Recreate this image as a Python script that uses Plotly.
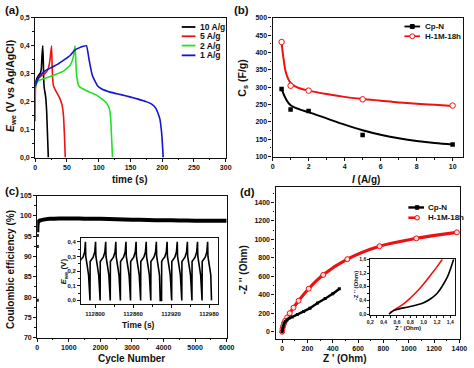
import plotly.graph_objects as go

W, H = 474, 368
FONT = "Liberation Sans"
INK = "#111111"

# ---------------- data ----------------
# (a) galvanostatic charge/discharge
t_10 = [0, 0.5, 2, 5, 8, 9.5, 10.5, 11.8, 12.8, 13.3, 14.3, 16.4, 18.0, 19.5, 20.6]
v_10 = [0.25, 0.268, 0.28, 0.293, 0.302, 0.315, 0.36, 0.40, 0.34, 0.28, 0.247, 0.218, 0.165, 0.07, 0.0]
t_5 = [0, 0.4, 2, 5, 10, 15, 20, 23, 25.7, 26.6, 27.5, 29, 33.4, 38, 42, 44.5, 46, 47.3]
v_5 = [0.13, 0.25, 0.268, 0.283, 0.293, 0.30, 0.315, 0.345, 0.40, 0.33, 0.28, 0.255, 0.234, 0.215, 0.19, 0.15, 0.08, 0.0]
t_2 = [0, 2, 5, 15, 30, 45, 55, 60, 62.7, 64.2, 66, 69, 80, 95, 105, 112, 116.6, 118.8, 120.5, 121.7]
v_2 = [0.25, 0.265, 0.274, 0.283, 0.295, 0.31, 0.33, 0.36, 0.40, 0.33, 0.28, 0.255, 0.24, 0.225, 0.21, 0.195, 0.176, 0.14, 0.06, 0.0]
t_1 = [0, 3, 7.7, 15.4, 25.7, 35, 46, 55, 61.7, 70, 76, 80.7, 84.8, 90, 97.7, 105, 118, 135, 149, 162, 174.7, 184, 190, 196, 199, 200.3, 201.5]
v_1 = [0.255, 0.275, 0.293, 0.31, 0.322, 0.333, 0.35, 0.365, 0.383, 0.393, 0.398, 0.40, 0.35, 0.293, 0.258, 0.245, 0.234, 0.225, 0.217, 0.209, 0.20, 0.19, 0.176, 0.141, 0.09, 0.049, 0.0]
gcd_labels = ["10 A/g", "5 A/g", "2 A/g", "1 A/g"]

# (b) specific capacitance vs current density
i_pts = [0.5, 1, 2, 5, 10]
cs_cpn = [295, 236, 231, 162, 135]
cs_h1m = [430, 304, 290, 265, 247]
fit_cpn_x = [0.5, 0.75, 1.0, 1.5, 2, 3, 4, 5, 6, 7, 8, 9, 10]
fit_cpn_y = [295, 265, 248, 236, 228, 210, 192, 176, 163, 153, 145, 139, 135]
fit_h1m_x = [0.5, 0.6, 0.75, 1.0, 1.25, 1.5, 2, 3, 4, 5, 6, 7, 8, 9, 10]
fit_h1m_y = [428, 385, 340, 312, 302, 297, 290, 280, 272, 266, 261, 256, 252, 249, 246]

# (c) coulombic efficiency
ce_early_cycle = [1, 2, 3]
ce_early_value = [79.2, 92.5, 95.2]
ce_cycle = [4, 10, 25, 50, 100, 200, 400, 700, 1000, 1500, 2000, 2500, 3000, 3500, 4000, 4500, 5000, 5500, 6000]
ce_value = [96.0, 97.6, 98.4, 98.7, 98.9, 99.1, 99.3, 99.4, 99.4, 99.35, 99.3, 99.2, 99.1, 99.0, 98.95, 98.9, 98.85, 98.85, 98.8]
# (c) inset: one charge/discharge cycle and the start time of each cycle
cycle_t = [0, 0.2, 2, 5, 7.5, 8.8, 9.3, 10.5, 12.5, 13.8, 14.6, 14.9]
cycle_v = [0.0, 0.265, 0.28, 0.295, 0.33, 0.40, 0.30, 0.25, 0.21, 0.17, 0.10, 0.0]
cycle_starts = [112776, 112792, 112808, 112824, 112840, 112856, 112872, 112888, 112905, 112921, 112937, 112953, 112969]

# (d) Nyquist plot
zr_cpn = [0, 3, 8, 15, 25, 40, 55, 80, 120, 170, 220, 280, 340, 400, 452]
zi_cpn = [0, 25, 55, 85, 110, 130, 145, 160, 185, 220, 255, 310, 360, 410, 465]
zr_h1m = [0, 3, 8, 15, 25, 40, 60, 90, 130, 210, 325, 515, 770, 1060, 1380]
zi_h1m = [0, 30, 60, 90, 120, 155, 200, 260, 335, 465, 615, 785, 925, 1010, 1075]
# (d) inset (high-frequency zoom)
zr_cpn_in = [0.48, 0.55, 0.63, 0.75, 0.88, 1.0, 1.1, 1.2, 1.28, 1.36, 1.45]
zi_cpn_in = [0.0, 0.1, 0.15, 0.2, 0.26, 0.33, 0.44, 0.6, 0.82, 1.1, 1.6]
zr_h1m_in = [0.5, 0.6, 0.7, 0.8, 0.9, 1.0, 1.1, 1.2, 1.28]
zi_h1m_in = [0.04, 0.17, 0.3, 0.47, 0.66, 0.88, 1.13, 1.38, 1.6]
series_names = ["Cp-N", "H-1M-18h"]

# ---------------- helpers ----------------
def fx(p):
    return p / W

def fy(p):
    return 1 - p / H

def axis(x0, x1, rng, dtick, minor, tick0=0, fmt=None, anchor=None, size=7):
    return dict(domain=[x0, x1], range=rng, anchor=anchor, showline=True, linecolor=INK,
                linewidth=1.2, mirror=True, ticks="outside", ticklen=3, tickwidth=1,
                tickcolor=INK, tickfont=dict(family=FONT, size=size, color=INK, weight="bold"),
                tick0=tick0, dtick=dtick, tickformat=fmt,
                minor=dict(ticks="outside", ticklen=1.8, tickwidth=1, tickcolor=INK, dtick=minor, tick0=tick0),
                showgrid=False, zeroline=False)

fig = go.Figure()
BLACK, RED, GREEN, BLUE = "#000000", "#ee1111", "#22e022", "#1414d2"

# (a)
for t, v, c, n in zip([t_10, t_5, t_2, t_1], [v_10, v_5, v_2, v_1], [BLACK, RED, GREEN, BLUE], gcd_labels):
    fig.add_trace(go.Scatter(x=t, y=v, mode="lines", line=dict(color=c, width=1.6, shape="spline", smoothing=0.4),
                             name=n, xaxis="x", yaxis="y", showlegend=False))

# (b)
fig.add_trace(go.Scatter(x=fit_cpn_x, y=fit_cpn_y, mode="lines", line=dict(color=BLACK, width=2, shape="spline"),
                         xaxis="x2", yaxis="y2", showlegend=False))
fig.add_trace(go.Scatter(x=fit_h1m_x, y=fit_h1m_y, mode="lines", line=dict(color=RED, width=2, shape="spline"),
                         xaxis="x2", yaxis="y2", showlegend=False))
fig.add_trace(go.Scatter(x=i_pts, y=cs_cpn, mode="markers", name=series_names[0],
                         marker=dict(symbol="square", size=4.5, color=BLACK),
                         xaxis="x2", yaxis="y2", showlegend=False))
fig.add_trace(go.Scatter(x=i_pts, y=cs_h1m, mode="markers", name=series_names[1],
                         marker=dict(symbol="circle", size=5.5, color="white", line=dict(color=RED, width=1)),
                         xaxis="x2", yaxis="y2", showlegend=False))

# (c)
fig.add_trace(go.Scatter(x=ce_early_cycle, y=ce_early_value, mode="markers",
                         marker=dict(symbol="square", size=3, color=BLACK),
                         xaxis="x3", yaxis="y3", showlegend=False))
fig.add_trace(go.Scatter(x=ce_cycle, y=ce_value, mode="lines", line=dict(color=BLACK, width=4, shape="spline"),
                         xaxis="x3", yaxis="y3", showlegend=False))
wave_t, wave_v = [], []
for s in cycle_starts:
    wave_t += [s + dt for dt in cycle_t]
    wave_v += cycle_v
fig.add_trace(go.Scatter(x=wave_t, y=wave_v, mode="lines", line=dict(color=BLACK, width=1.6),
                         xaxis="x5", yaxis="y5", showlegend=False))

# (d)
fig.add_trace(go.Scatter(x=zr_h1m, y=zi_h1m, mode="lines+markers", name=series_names[1],
                         line=dict(color=RED, width=3.2, shape="spline"),
                         marker=dict(symbol="circle", size=5, color="#ffdada", line=dict(color=RED, width=1)),
                         xaxis="x4", yaxis="y4", showlegend=False))
fig.add_trace(go.Scatter(x=zr_cpn, y=zi_cpn, mode="lines+markers", name=series_names[0],
                         line=dict(color=BLACK, width=2.4, shape="spline"),
                         marker=dict(symbol="square", size=3, color=BLACK),
                         xaxis="x4", yaxis="y4", showlegend=False))
fig.add_trace(go.Scatter(x=zr_h1m_in, y=zi_h1m_in, mode="lines", line=dict(color=RED, width=1.6, shape="spline"),
                         xaxis="x6", yaxis="y6", showlegend=False))
fig.add_trace(go.Scatter(x=zr_cpn_in, y=zi_cpn_in, mode="lines", line=dict(color=BLACK, width=1.6, shape="spline"),
                         xaxis="x6", yaxis="y6", showlegend=False))

layout = dict(width=W, height=H, margin=dict(l=0, r=0, t=0, b=0), paper_bgcolor="white",
              plot_bgcolor="white", separators=",.", showlegend=False,
              font=dict(family=FONT, color=INK))
# panel (a)
layout["xaxis"] = axis(fx(33), fx(228), [0, 300], 50, 25, anchor="y")
layout["yaxis"] = axis(fy(157), fy(14), [0, 0.5], 0.1, 0.05, fmt=".1f", anchor="x")
# panel (b)
layout["xaxis2"] = axis(fx(276), fx(471), [0, 10.58], 2, 1, anchor="y2")
layout["yaxis2"] = axis(fy(156), fy(14), [100, 500], 50, 25, anchor="x2")
# panel (c)
layout["xaxis3"] = axis(fx(35), fx(229), [0, 6000], 1000, 500, anchor="y3")
layout["yaxis3"] = axis(fy(341), fy(196), [70, 105], 5, 2.5, anchor="x3")
# panel (d)
layout["xaxis4"] = axis(fx(279), fx(468), [-52, 1406], 200, 100, anchor="y4")
layout["yaxis4"] = axis(fy(342), fy(187), [-74, 1566], 200, 100, anchor="x4")
# inset (c)
layout["xaxis5"] = axis(fx(80), fx(220), [112778, 112994], 60, 30, tick0=112800, fmt="d", anchor="y5", size=6)
layout["yaxis5"] = axis(fy(307), fy(239), [-0.027, 0.427], 0.1, 0.05, fmt=".1f", anchor="x5", size=6)
# inset (d)
layout["xaxis6"] = axis(fx(376), fx(463), [0.2, 1.474], 0.2, 0.1, fmt=".1f", anchor="y6", size=5)
layout["yaxis6"] = axis(fy(318), fy(261), [-0.03, 1.6], 0.4, 0.2, fmt=".1f", anchor="x6", size=5)
layout["xaxis6"]["ticklen"] = 2
layout["yaxis6"]["ticklen"] = 2
fig.update_layout(**layout)

# ---------------- text (panel labels, axis titles) ----------------
def txt(s, x, y, size, angle=0, xanchor="center"):
    fig.add_annotation(text=s, x=fx(x), y=fy(y), xref="paper", yref="paper", showarrow=False,
                       textangle=angle, xanchor=xanchor, yanchor="middle",
                       font=dict(family=FONT, size=size, color=INK))

txt("<b>(a)</b>", 0, 6, 11.5, xanchor="left")
txt("<b>(b)</b>", 234, 6, 11.5, xanchor="left")
txt("<b>(c)</b>", 0, 191, 11.5, xanchor="left")
txt("<b>(d)</b>", 241, 192, 11.5, xanchor="left")

txt("<b><i>E</i><sub>we</sub> (V vs Ag/AgCl)</b>", 8, 84, 10.5, angle=-90)
txt("<b>time (s)</b>", 130, 179, 10)
txt("<b>C<sub>s</sub> (F/g)</b>", 246, 76, 10.5, angle=-90)
txt("<b><i>I</i> (A/g)</b>", 372, 179, 10)
txt("<b>Coulombic efficiency (%)</b>", 7, 271, 10, angle=-90)
txt("<b>Cycle Number</b>", 132, 362, 10)
txt("<b>-Z '' (Ohm)</b>", 246, 272, 10, angle=-90)
txt("<b>Z ' (Ohm)</b>", 350, 362, 10)
txt("<b><i>E</i><sub>we</sub> (V)</b>", 63, 274, 8, angle=-90)
txt("<b>Time (s)</b>", 139, 328, 8.5)
txt("<b>-Z '' (Ohm)</b>", 361, 288, 6, angle=-90)
txt("<b>Z ' (Ohm)</b>", 415, 331, 6)

# ---------------- legends (drawn as keys) ----------------
def key_line(x0, x1, y, color, width, dash="solid"):
    fig.add_shape(type="line", xref="paper", yref="paper", x0=fx(x0), x1=fx(x1), y0=fy(y), y1=fy(y),
                  line=dict(color=color, width=width, dash=dash))

def key_marker(x, y, r, kind, color, fill):
    fig.add_shape(type=kind, xref="paper", yref="paper", x0=fx(x - r), x1=fx(x + r), y0=fy(y + r), y1=fy(y - r),
                  line=dict(color=color, width=1), fillcolor=fill)

for lab, c, y in zip(gcd_labels, [BLACK, RED, GREEN, BLUE], [23.5, 33, 42.5, 52.5]):
    key_line(183, 197, y, c, 1.8)
    txt("<b>%s</b>" % lab, 200, y, 8.5, xanchor="left")

key_line(411, 427, 23, BLACK, 1.8)
key_marker(419, 23, 2, "rect", BLACK, BLACK)
txt("<b>%s</b>" % series_names[0], 430, 23, 8, xanchor="left")
key_line(411, 427, 33, RED, 1.8)
key_marker(419, 33, 2.5, "circle", RED, "white")
txt("<b>%s</b>" % series_names[1], 430, 33, 8, xanchor="left")

key_line(415, 431, 208, BLACK, 2.4)
key_marker(424, 208, 1.8, "rect", BLACK, BLACK)
txt("<b>%s</b>" % series_names[0], 433, 208, 8, xanchor="left")
key_line(415, 431, 218.5, RED, 2.6, dash="dash")
key_marker(424, 218.5, 2.3, "circle", RED, "#ffdada")
txt("<b>%s</b>" % series_names[1], 433, 218.5, 8, xanchor="left")

fig.write_html("out.html", config={"displayModeBar": False},
               post_script="document.body.style.margin='0px';document.body.style.padding='0px';")
